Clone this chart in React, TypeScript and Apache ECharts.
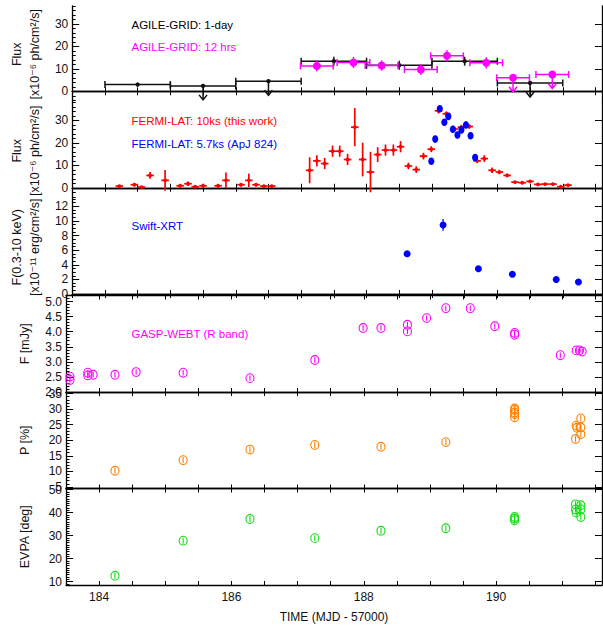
import React, { useEffect, useRef } from 'react';
import * as echarts from 'echarts';

// ---------- tick labels ----------
const xTickValues = [183.5, 184, 184.5, 185, 185.5, 186, 186.5, 187, 187.5, 188, 188.5, 189, 189.5, 190, 190.5, 191, 191.5];
const xTickLabels = [184, 186, 188, 190];
const fluxTicks = [0, 10, 20, 30];
const swiftTicks = [0, 2, 4, 6, 8, 10, 12];
const gaspTicks = [2.0, 2.5, 3.0, 3.5, 4.0, 4.5, 5.0];
const polTicks = [5, 10, 15, 20, 25, 30, 35];
const evpaTicks = [10, 20, 30, 40, 50];

// ---------- AGILE-GRID 1-day ----------
const agileDayT = [184.5, 185.5, 186.5, 187.5, 188.5, 189.5, 190.5];
const agileDayFlux = [3.0, 2.4, 4.5, 13.4, 11.6, 13.4, 3.7];
const agileDayErr = [0.6, 0, 0, 2.0, 2.0, 2.0, 0];
const agileDayUL = [0, 1, 1, 0, 0, 0, 1];

// ---------- AGILE-GRID 12 hrs ----------
const agile12T = [187.24, 187.8, 188.23, 188.83, 189.23, 189.83, 190.24, 190.84];
const agile12Flux = [11.3, 12.8, 11.5, 9.7, 15.8, 12.7, 6.0, 7.5];
const agile12Err = [2.5, 2.5, 2.3, 2.5, 2.5, 2.5, 0, 0];
const agile12UL = [0, 0, 0, 0, 0, 0, 1, 1];

// ---------- FERMI-LAT 10 ks ----------
const fermiT = [184.22, 184.45, 184.56, 184.69, 184.92, 185.15, 185.27, 185.38, 185.5, 185.73, 185.85, 186.08, 186.2, 186.31, 186.43, 186.55,
  187.13, 187.24, 187.36, 187.48, 187.59, 187.71, 187.82, 187.94, 188.06, 188.17, 188.29, 188.41, 188.52, 188.64, 188.76, 188.87, 188.99,
  189.1, 189.22, 189.34, 189.45, 189.57, 189.69, 189.8, 189.92, 190.03, 190.15, 190.27, 190.38, 190.5, 190.62, 190.73, 190.85, 190.97, 191.08];
const fermiFlux = [0.75, 1.35, 0.3, 5.5, 3.3, 0.9, 1.8, 0.45, 0.9, 0.9, 3.3, 1.35, 3.3, 1.35, 0.75, 0.75,
  7.8, 12.0, 10.8, 16.3, 16.3, 12.6, 27.0, 12.6, 7.0, 14.8, 16.8, 16.8, 18.3, 9.7, 8.1, 14.1, 17.2,
  34.3, 33.0, 26.2, 27.0, 27.3, 12.0, 13.0, 7.8, 7.0, 5.5, 2.5, 2.25, 2.85, 1.5, 1.65, 1.65, 0.45, 1.2];
const fermiErr = [0.5, 0.5, 0.5, 1.5, 4.6, 0.5, 1.0, 0.5, 0.5, 0.5, 3.5, 0.7, 3.0, 0.5, 0.5, 0.5,
  5.8, 2.5, 2.5, 2.5, 2.5, 2.5, 8.5, 7.5, 9.0, 3.3, 2.5, 2.5, 2.5, 1.5, 1.5, 1.5, 1.3,
  1.2, 1.0, 1.0, 1.0, 1.0, 1.0, 1.5, 1.2, 1.0, 0.8, 0.5, 0.5, 0.5, 0.5, 0.5, 0.5, 0.5, 0.5];

// ---------- FERMI-LAT 5.7 ks (ApJ 824) ----------
const fermi57T = [188.99, 189.05, 189.12, 189.19, 189.25, 189.32, 189.39, 189.45, 189.52, 189.59, 189.66];
const fermi57Flux = [11.8, 21.7, 35.2, 29.2, 31.8, 26.1, 23.5, 25.8, 28.0, 23.2, 13.5];
const fermi57Err = [1.2, 1.5, 1.5, 1.5, 1.5, 1.5, 1.5, 1.5, 1.5, 1.5, 1.0];

// ---------- Swift-XRT ----------
const swiftT = [188.62, 189.17, 189.71, 190.23, 190.9, 191.24];
const swiftFlux = [5.5, 9.45, 3.45, 2.7, 2.0, 1.65];
const swiftErr = [0.2, 0.8, 0.4, 0.25, 0.3, 0.2];

// ---------- GASP-WEBT R band ----------
const gaspT = [183.56, 183.56, 183.83, 183.83, 183.91, 184.24, 184.56, 185.27, 186.28, 187.26, 187.99, 188.26, 188.66, 188.66, 188.95, 189.24,
  189.61, 189.98, 190.28, 190.28, 190.97, 191.21, 191.26, 191.3];
const gaspFlux = [2.51, 2.40, 2.64, 2.55, 2.57, 2.57, 2.66, 2.64, 2.46, 3.06, 4.12, 4.12, 4.23, 4.01, 4.45, 4.78,
  4.78, 4.18, 3.96, 3.90, 3.22, 3.38, 3.38, 3.34];
const gaspErr = [0.09, 0.09, 0.09, 0.09, 0.09, 0.09, 0.09, 0.09, 0.09, 0.09, 0.09, 0.09, 0.09, 0.09, 0.09, 0.09,
  0.09, 0.09, 0.09, 0.09, 0.09, 0.09, 0.09, 0.09];

// ---------- Polarization degree ----------
const polT = [184.24, 185.27, 186.28, 187.26, 188.26, 189.24, 190.28, 190.28, 190.28, 190.28, 190.28, 191.2, 191.21, 191.22, 191.28, 191.28, 191.28];
const polP = [10.2, 13.6, 17.0, 18.5, 17.9, 19.4, 30.2, 29.7, 28.9, 28.4, 27.4, 20.4, 24.7, 24.0, 27.0, 24.1, 21.9];
const polErr = [1.0, 1.0, 1.0, 1.0, 1.0, 1.0, 1.0, 1.0, 1.0, 1.0, 1.0, 1.0, 1.0, 1.0, 1.0, 1.0, 1.0];

// ---------- EVPA ----------
const evpaT = [184.24, 185.27, 186.28, 187.26, 188.26, 189.24, 190.28, 190.28, 190.28, 191.2, 191.2, 191.21, 191.28, 191.28, 191.28];
const evpaV = [12.5, 27.8, 37.2, 28.9, 32.1, 33.2, 38.1, 37.4, 36.7, 43.6, 41.4, 40.1, 43.2, 41.4, 38.1];
const evpaErr = [1.3, 1.3, 1.3, 1.3, 1.3, 1.3, 1.3, 1.3, 1.3, 1.3, 1.3, 1.3, 1.3, 1.3, 1.3];

// ---------- layout ----------
const FONT = 'Liberation Sans, Arial, Helvetica, DejaVu Sans, sans-serif';
const panelTop = [6, 102.5, 199, 295.5, 392, 488.5];
const panelH = 96.5;
const X_MIN = 183.5;
const X_MAX = 191.6;

const steps = (a: number, b: number, s: number) => {
  const out: number[] = [];
  for (let k = 0; a + k * s <= b + 1e-9; k++) out.push(+(a + k * s).toFixed(4));
  return out;
};

const yCfg = [
  { min: -5, max: 38, major: fluxTicks, minor: steps(-4, 38, 2), name: 'Flux\n[x10⁻⁶ ph/cm²/s]', gap: 23, dec: 0 },
  { min: -5, max: 38, major: fluxTicks, minor: steps(-4, 38, 2), name: 'Flux\n[x10⁻⁶ ph/cm²/s]', gap: 23, dec: 0 },
  { min: -0.2, max: 13, major: swiftTicks, minor: steps(0, 13, 0.5), name: 'F(0.3-10 keV)\n[x10⁻¹¹ erg/cm²/s]', gap: 23, dec: 0 },
  { min: 2.0, max: 5.2, major: gaspTicks, minor: steps(2.0, 5.2, 0.1), name: 'F [mJy]', gap: 32, dec: 1 },
  { min: 4.5, max: 35.5, major: polTicks, minor: steps(5, 35, 1), name: 'P [%]', gap: 32, dec: 0 },
  { min: 8.5, max: 50.5, major: evpaTicks, minor: steps(9, 50, 1), name: 'EVPA [deg]', gap: 32, dec: 0 },
];

type Mk = { color: string; marker: 'dot' | 'ellipse' | 'ring' | 'plus'; r: number; caps?: boolean; lw: number };

function errSeries(name: string, grid: number, t: number[], v: number[], hw: number, err: number[], ul: number[] | null, mk: Mk) {
  const rows = t.map((x, i) => [x, v[i], hw, err[i], ul ? ul[i] : 0]);
  return {
    name,
    type: 'custom',
    xAxisIndex: grid * 2,
    yAxisIndex: grid * 3,
    data: rows,
    encode: { x: 0, y: 1 },
    clip: false,
    renderItem: (_params: any, api: any) => {
      const tt = api.value(0), vv = api.value(1), xh = api.value(2), ye = api.value(3), isUL = api.value(4);
      const p = api.coord([tt, vv]);
      const ls = { stroke: mk.color, lineWidth: mk.lw, fill: 'none' };
      const ch: any[] = [];
      if (xh > 0) {
        const a = api.coord([tt - xh, vv]);
        const b = api.coord([tt + xh, vv]);
        ch.push({ type: 'line', shape: { x1: a[0], y1: a[1], x2: b[0], y2: b[1] }, style: ls });
        if (mk.caps) {
          ch.push({ type: 'line', shape: { x1: a[0], y1: a[1] - 3.5, x2: a[0], y2: a[1] + 3.5 }, style: ls });
          ch.push({ type: 'line', shape: { x1: b[0], y1: b[1] - 3.5, x2: b[0], y2: b[1] + 3.5 }, style: ls });
        }
      }
      if (ye > 0) {
        const a = api.coord([tt, vv + ye]);
        const b = api.coord([tt, vv - ye]);
        ch.push({ type: 'line', shape: { x1: a[0], y1: a[1], x2: b[0], y2: b[1] }, style: ls });
      }
      if (isUL) {
        ch.push({ type: 'line', shape: { x1: p[0], y1: p[1], x2: p[0], y2: p[1] + 14 }, style: ls });
        ch.push({ type: 'polyline', shape: { points: [[p[0] - 4, p[1] + 9], [p[0], p[1] + 14], [p[0] + 4, p[1] + 9]] }, style: ls });
      }
      if (mk.marker === 'dot' || mk.marker === 'plus') {
        ch.push({ type: 'circle', shape: { cx: p[0], cy: p[1], r: mk.r }, style: { fill: mk.color } });
      } else if (mk.marker === 'ellipse') {
        ch.push({ type: 'ellipse', shape: { cx: p[0], cy: p[1], rx: mk.r * 0.8, ry: mk.r }, style: { fill: mk.color } });
      } else {
        ch.push({ type: 'ellipse', shape: { cx: p[0], cy: p[1], rx: mk.r, ry: mk.r * 1.1 }, style: { fill: 'none', stroke: mk.color, lineWidth: mk.lw } });
      }
      return { type: 'group', children: ch };
    },
  };
}

function buildOption() {
  const grids = panelTop.map((top) => ({ left: 66, right: 1, top, height: panelH, containLabel: false }));
  const xAxes: any[] = [];
  const yAxes: any[] = [];
  panelTop.forEach((_, i) => {
    const last = i === panelTop.length - 1;
    const common = {
      type: 'value', gridIndex: i, min: X_MIN, max: X_MAX, splitLine: { show: false },
      axisLine: { show: true, lineStyle: { color: '#000', width: 1.3 } },
      axisTick: { show: true, inside: true, length: 4, customValues: xTickValues, lineStyle: { color: '#000', width: 1 } },
    };
    xAxes.push({
      ...common, position: 'bottom',
      axisLabel: { show: last, customValues: xTickLabels, fontSize: 12, color: '#111', fontFamily: FONT, margin: 6 },
      name: last ? 'TIME (MJD - 57000)' : '', nameLocation: 'middle', nameGap: 26,
      nameTextStyle: { fontSize: 12, color: '#111', fontFamily: FONT },
    });
    xAxes.push({ ...common, position: 'top', axisLabel: { show: false } });

    const c = yCfg[i];
    yAxes.push({
      type: 'value', gridIndex: i, min: c.min, max: c.max, position: 'left', splitLine: { show: false },
      axisLine: { show: true, lineStyle: { color: '#000', width: 1.3 } },
      axisTick: { show: true, inside: true, length: 7, customValues: c.major, lineStyle: { color: '#000', width: 1 } },
      axisLabel: {
        show: true, customValues: c.major, fontSize: 12, color: '#111', fontFamily: FONT, margin: 4,
        formatter: (val: number) => val.toFixed(c.dec),
      },
      name: c.name, nameLocation: 'middle', nameGap: c.gap,
      nameTextStyle: { fontSize: 12.5, color: '#111', fontFamily: FONT, lineHeight: 18 },
    });
    yAxes.push({
      type: 'value', gridIndex: i, min: c.min, max: c.max, position: 'left', splitLine: { show: false },
      axisLine: { show: false },
      axisTick: { show: true, inside: true, length: 3.5, customValues: c.minor, lineStyle: { color: '#000', width: 1 } },
      axisLabel: { show: false },
    });
    yAxes.push({
      type: 'value', gridIndex: i, min: c.min, max: c.max, position: 'right', splitLine: { show: false },
      axisLine: { show: true, lineStyle: { color: '#000', width: 1.3 } },
      axisTick: { show: true, inside: true, length: 7, customValues: c.major, lineStyle: { color: '#000', width: 1 } },
      axisLabel: { show: false },
    });
  });

  const series = [
    errSeries('AGILE-GRID: 1-day', 0, agileDayT, agileDayFlux, 0.5, agileDayErr, agileDayUL, { color: '#111', marker: 'dot', r: 2.2, caps: true, lw: 1.5 }),
    errSeries('AGILE-GRID: 12 hrs', 0, agile12T, agile12Flux, 0.25, agile12Err, agile12UL, { color: '#ff00ff', marker: 'dot', r: 4, caps: true, lw: 1.5 }),
    errSeries('FERMI-LAT: 10ks', 1, fermiT, fermiFlux, 0.058, fermiErr, null, { color: '#ff0000', marker: 'plus', r: 1.9, lw: 1.7 }),
    errSeries('FERMI-LAT: 5.7ks', 1, fermi57T, fermi57Flux, 0, fermi57Err, null, { color: '#0000ff', marker: 'ellipse', r: 3.8, lw: 1.3 }),
    errSeries('Swift-XRT', 2, swiftT, swiftFlux, 0, swiftErr, null, { color: '#0000ff', marker: 'dot', r: 3.5, lw: 1.3 }),
    errSeries('GASP-WEBT', 3, gaspT, gaspFlux, 0, gaspErr, null, { color: '#ff00ff', marker: 'ring', r: 4, lw: 1.1 }),
    errSeries('P', 4, polT, polP, 0, polErr, null, { color: '#ff8000', marker: 'ring', r: 4, lw: 1.1 }),
    errSeries('EVPA', 5, evpaT, evpaV, 0, evpaErr, null, { color: '#11dd11', marker: 'ring', r: 4, lw: 1.1 }),
  ];

  const legendText = (text: string, y: number, fill: string) => ({
    type: 'text', x: 131.5, y,
    style: { text, fill, fontSize: 11.5, fontFamily: FONT, verticalAlign: 'middle', align: 'left' },
  });

  return {
    animation: false,
    backgroundColor: '#fff',
    textStyle: { fontFamily: FONT },
    grid: grids,
    xAxis: xAxes,
    yAxis: yAxes,
    series,
    graphic: [
      legendText('AGILE-GRID: 1-day', 25, '#000'),
      legendText('AGILE-GRID: 12 hrs', 47, '#ff00ff'),
      legendText('FERMI-LAT: 10ks (this work)', 121, '#ff0000'),
      legendText('FERMI-LAT: 5.7ks (ApJ 824)', 143.5, '#0000ff'),
      legendText('Swift-XRT', 226, '#0000ff'),
      legendText('GASP-WEBT (R band)', 334, '#ff00ff'),
    ],
  };
}

export default function App() {
  const ref = useRef<HTMLDivElement>(null);
  useEffect(() => {
    const chart = echarts.init(ref.current!, null, { renderer: 'svg' });
    chart.setOption(buildOption() as any);
    return () => chart.dispose();
  }, []);
  return <div ref={ref} style={{ position: 'absolute', left: 0, top: 0, width: 603, height: 630, background: '#fff' }} />;
}
